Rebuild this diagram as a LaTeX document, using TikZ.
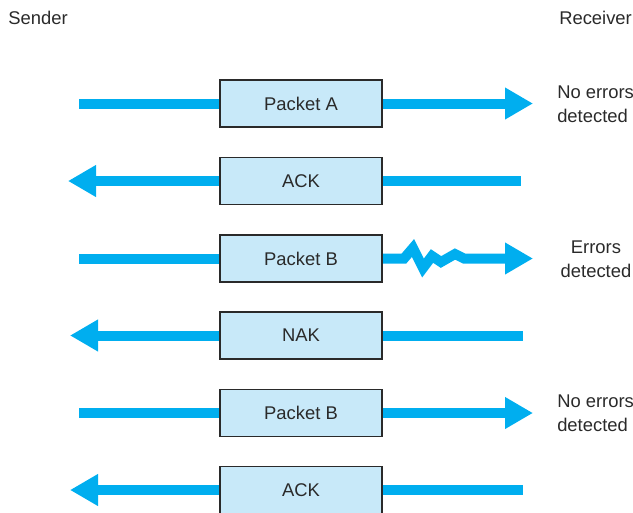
\documentclass[tikz,border=0pt]{standalone}
\usepackage{fontspec}
\setmainfont{Liberation Sans}
\usetikzlibrary{arrows.meta,backgrounds}
\definecolor{flow}{HTML}{00AEEF}
\definecolor{boxfill}{HTML}{C8E9F9}
\definecolor{ink}{HTML}{2A2A2A}
\begin{document}
\begin{tikzpicture}[x=0.75pt,y=-0.75pt,
  packet/.style={draw=ink,line width=1pt,fill=boxfill,minimum width=121.5pt,minimum height=35.25pt,inner sep=0pt,text=ink,font=\fontsize{13.8pt}{18pt}\selectfont},
  lbl/.style={text=ink,font=\fontsize{13.8pt}{18pt}\selectfont,inner sep=0pt},
  pipe/.style={draw=flow,line width=7.5pt},
  tipped/.style={pipe,-{Triangle[length=21pt 0 0,width=22.5pt 0 0]}}]
\useasboundingbox (0,0) rectangle (633,512);
% coordinates for free ends
\coordinate (s1) at (79,103.5);  \coordinate (r1) at (533,103.5);
\coordinate (s2) at (68,181);    \coordinate (r2) at (521,181);
\coordinate (s3) at (79,258.5);  \coordinate (r3) at (533,258.5);
\coordinate (s4) at (70,335.5);  \coordinate (r4) at (523,335.5);
\coordinate (s5) at (79,413);    \coordinate (r5) at (533,413);
\coordinate (s6) at (70,490);    \coordinate (r6) at (523,490);
% boxes
\node[packet] (p1) at (301,103.5) {Packet A};
\node[packet] (p2) at (301,181) {ACK};
\node[packet] (p3) at (301,258.5) {Packet B};
\node[packet] (p4) at (301,335.5) {NAK};
\node[packet] (p5) at (301,413) {Packet B};
\node[packet] (p6) at (301,490) {ACK};
% connectors, behind the boxes
\begin{scope}[on background layer]
\draw[pipe] (s1) -- ([xshift=2pt]p1.west);
\draw[tipped] ([xshift=-2pt]p1.east) -- (r1);
\draw[tipped] ([xshift=2pt]p2.west) -- (s2);
\draw[pipe] ([xshift=-2pt]p2.east) -- (r2);
\draw[pipe] (s3) -- ([xshift=2pt]p3.west);
\draw[tipped] ([xshift=-2pt]p3.east) -- (404,258.5) -- (413,248) -- (423,268) -- (432,256) -- (441,262) -- (455,254) -- (464,258.5) -- (r3);
\draw[tipped] ([xshift=2pt]p4.west) -- (s4);
\draw[pipe] ([xshift=-2pt]p4.east) -- (r4);
\draw[pipe] (s5) -- ([xshift=2pt]p5.west);
\draw[tipped] ([xshift=-2pt]p5.east) -- (r5);
\draw[tipped] ([xshift=2pt]p6.west) -- (s6);
\draw[pipe] ([xshift=-2pt]p6.east) -- (r6);
\end{scope}
% labels
\node[lbl] (sender) at (38,18) {Sender};
\node[lbl,anchor=west] (receiver) at (559,18) {Receiver};
\node[lbl,anchor=west,align=left] (ok1) at (557,104) {No errors\\detected};
\node[lbl,align=center] (err) at (596,259) {Errors\\detected};
\node[lbl,anchor=west,align=left] (ok2) at (557,413) {No errors\\detected};
\end{tikzpicture}
\end{document}
